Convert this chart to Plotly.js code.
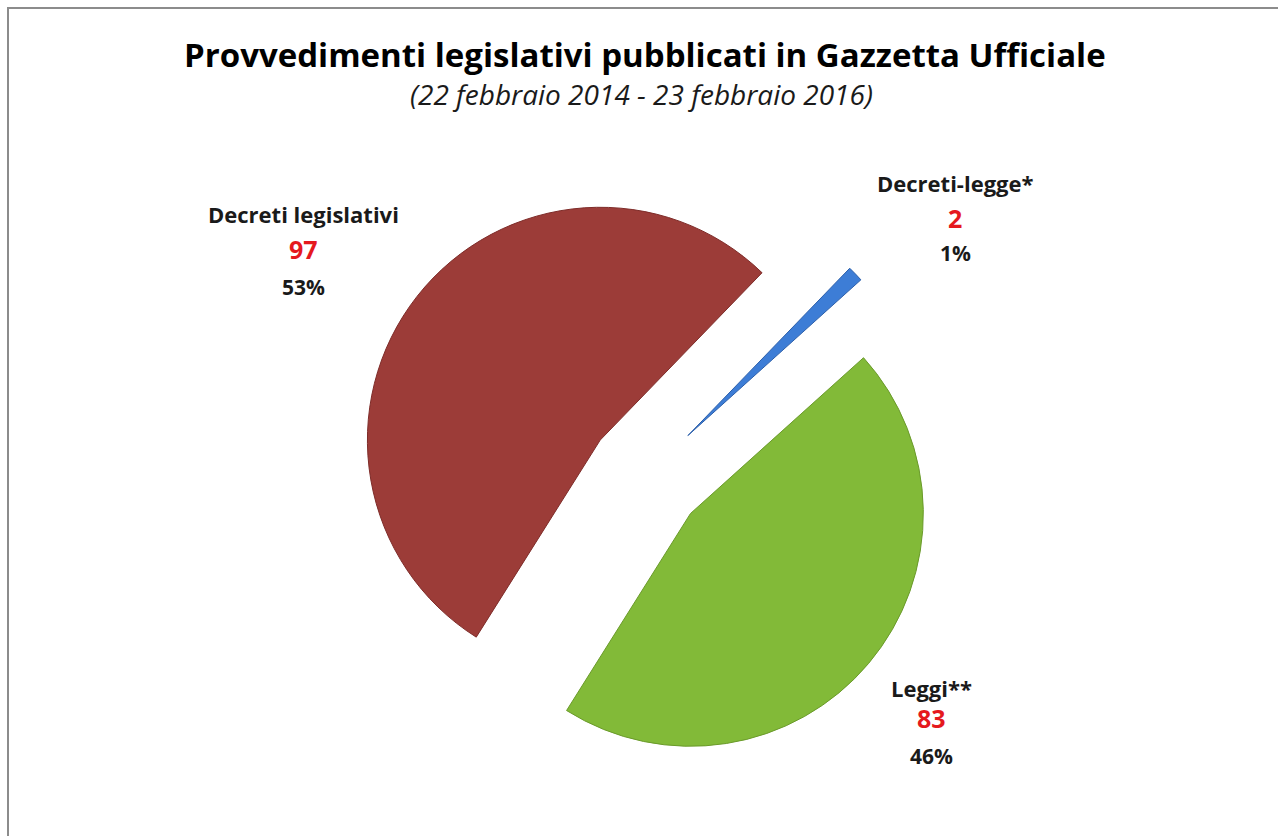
<!DOCTYPE html>
<html>
<head>
<meta charset="utf-8">
<script src="https://cdn.plot.ly/plotly-3.0.1.min.js"></script>
<style>html,body{margin:0;padding:0;background:#fff;}#chart{width:1278px;height:836px;}</style>
</head>
<body>
<div id="chart"></div>
<script>
var categories = ["Leggi**", "Decreti legislativi", "Decreti-legge*"];
var values = [83, 97, 2];
var percentLabels = ["46%", "53%", "1%"];
var sliceColors = ["#82BA38", "#9C3C38", "#3D7DD6"];
var edgeColors = ["#6A9A2A", "#7E2C29", "#2C5FAA"];

var W = 1278, H = 836;
function px(x){ return x / W; }
function py(y){ return 1 - y / H; }

var trace = {
  type: "pie",
  labels: categories,
  values: values,
  sort: false,
  direction: "clockwise",
  rotation: 48,
  pull: [0.25, 0.25, 0.25],
  textinfo: "none",
  hoverinfo: "none",
  showlegend: false,
  marker: { colors: sliceColors, line: { color: edgeColors, width: 1 } },
  domain: { x: [px(355), px(937)], y: [py(767), py(185)] }
};

var F = "Open Sans";
// layout: label x center, and y centers for name / number / percent rows
var labelX = [931, 303, 955];
var labelY = [[688, 718, 756], [214, 249, 287], [183, 218, 253]];
var annotations = [];
for (var i = 0; i < categories.length; i++) {
  var lx = labelX[i], ys = labelY[i];
  annotations.push({xref: "paper", yref: "paper", x: px(lx), y: py(ys[0]), text: "<b>" + categories[i] + "</b>",
    showarrow: false, xanchor: "center", yanchor: "middle", font: {family: F, size: 22, color: "#1a1a1a"}});
  annotations.push({xref: "paper", yref: "paper", x: px(lx), y: py(ys[1]), text: "<b>" + values[i] + "</b>",
    showarrow: false, xanchor: "center", yanchor: "middle", font: {family: F, size: 25, color: "#E5191E"}});
  annotations.push({xref: "paper", yref: "paper", x: px(lx), y: py(ys[2]), text: "<b>" + percentLabels[i] + "</b>",
    showarrow: false, xanchor: "center", yanchor: "middle", font: {family: F, size: 21, color: "#1a1a1a"}});
}
annotations.push({xref: "paper", yref: "paper", x: px(645), y: py(54), text: "<b>Provvedimenti legislativi pubblicati in Gazzetta Ufficiale</b>",
  showarrow: false, xanchor: "center", yanchor: "middle", font: {family: F, size: 33, color: "#000"}});
annotations.push({xref: "paper", yref: "paper", x: px(641), y: py(94), text: "<i>(22 febbraio 2014 - 23 febbraio 2016)</i>",
  showarrow: false, xanchor: "center", yanchor: "middle", font: {family: F, size: 28, color: "#1a1a1a"}});

var layout = {
  width: W, height: H,
  margin: {l: 0, r: 0, t: 0, b: 0},
  paper_bgcolor: "#fff",
  showlegend: false,
  annotations: annotations,
  shapes: [{type: "rect", xref: "paper", yref: "paper", x0: px(8), y0: -0.1, x1: 1.1, y1: py(8),
    line: {color: "#8c8c8c", width: 2}, fillcolor: "rgba(0,0,0,0)"}]
};

Plotly.newPlot("chart", [trace], layout, {displayModeBar: false, staticPlot: true});
</script>
</body>
</html>
